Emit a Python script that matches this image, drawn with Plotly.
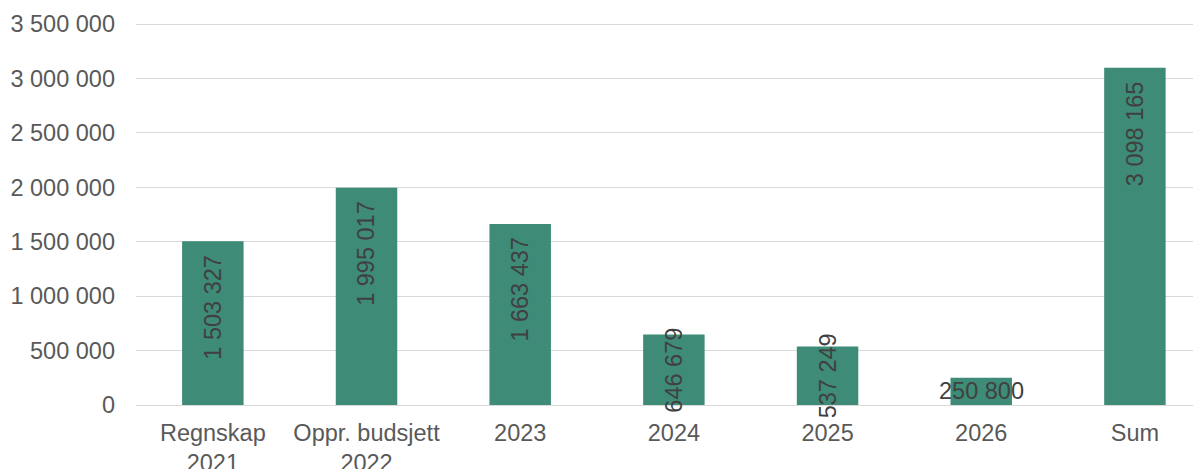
import plotly.graph_objects as go

categories = ["Regnskap<br>2021", "Oppr. budsjett<br>2022", "2023", "2024", "2025", "2026", "Sum"]
values = [1503327, 1995017, 1663437, 646679, 537249, 250800, 3098165]
y_tickvals = [0, 500000, 1000000, 1500000, 2000000, 2500000, 3000000, 3500000]

BAR_COLOR = "#3E8B77"
TICK_COLOR = "#595959"
LABEL_COLOR = "#404040"
FONT = "Liberation Sans, Arial, sans-serif"
FS = 23.5


def fmt(v):
    return f"{v:,}".replace(",", " ")


fig = go.Figure()
fig.add_trace(go.Bar(
    x=list(range(len(categories))),
    y=values,
    width=0.4,
    marker=dict(color=BAR_COLOR, line=dict(width=0)),
    hoverinfo="skip",
))

annotations = []
for i, v in enumerate(values):
    if v < 300000:
        annotations.append(dict(x=i, y=v / 2, text=fmt(v), showarrow=False,
                                xanchor="center", yanchor="middle", textangle=0,
                                font=dict(family=FONT, size=FS, color=LABEL_COLOR)))
    elif v < 1000000:
        annotations.append(dict(x=i, y=v / 2, text=fmt(v), showarrow=False,
                                xanchor="center", yanchor="middle", textangle=-90,
                                font=dict(family=FONT, size=FS, color=LABEL_COLOR)))
    else:
        annotations.append(dict(x=i, y=v, text=fmt(v), showarrow=False,
                                xanchor="center", yanchor="top", yshift=-11, textangle=-90,
                                font=dict(family=FONT, size=FS, color=LABEL_COLOR)))

y_top = 3500000 * 386 / 381

fig.update_layout(
    width=1201, height=469,
    margin=dict(l=128, r=8, t=11, b=72, autoexpand=False),
    paper_bgcolor="white", plot_bgcolor="white",
    separators=", ",
    showlegend=False,
    bargap=0.6,
    font=dict(family=FONT, size=FS, color=TICK_COLOR),
    annotations=annotations,
    xaxis=dict(
        range=[-0.5, 6.43],
        tickmode="array",
        tickvals=list(range(len(categories))),
        ticktext=categories,
        showgrid=False, zeroline=False, showline=False,
        ticks="", ticklabelstandoff=11, automargin=False,
        tickfont=dict(family=FONT, size=FS, color=TICK_COLOR),
        fixedrange=True,
    ),
    yaxis=dict(
        range=[0, y_top],
        tickmode="array",
        tickvals=y_tickvals,
        ticktext=[fmt(v) for v in y_tickvals],
        showgrid=True, gridcolor="#D9D9D9", gridwidth=1.3,
        zeroline=True, zerolinecolor="#D9D9D9", zerolinewidth=1.3,
        showline=False, ticks="", ticklabelstandoff=20, automargin=False,
        tickfont=dict(family=FONT, size=FS, color=TICK_COLOR),
        fixedrange=True,
    ),
)

fig.write_html("out.html")
